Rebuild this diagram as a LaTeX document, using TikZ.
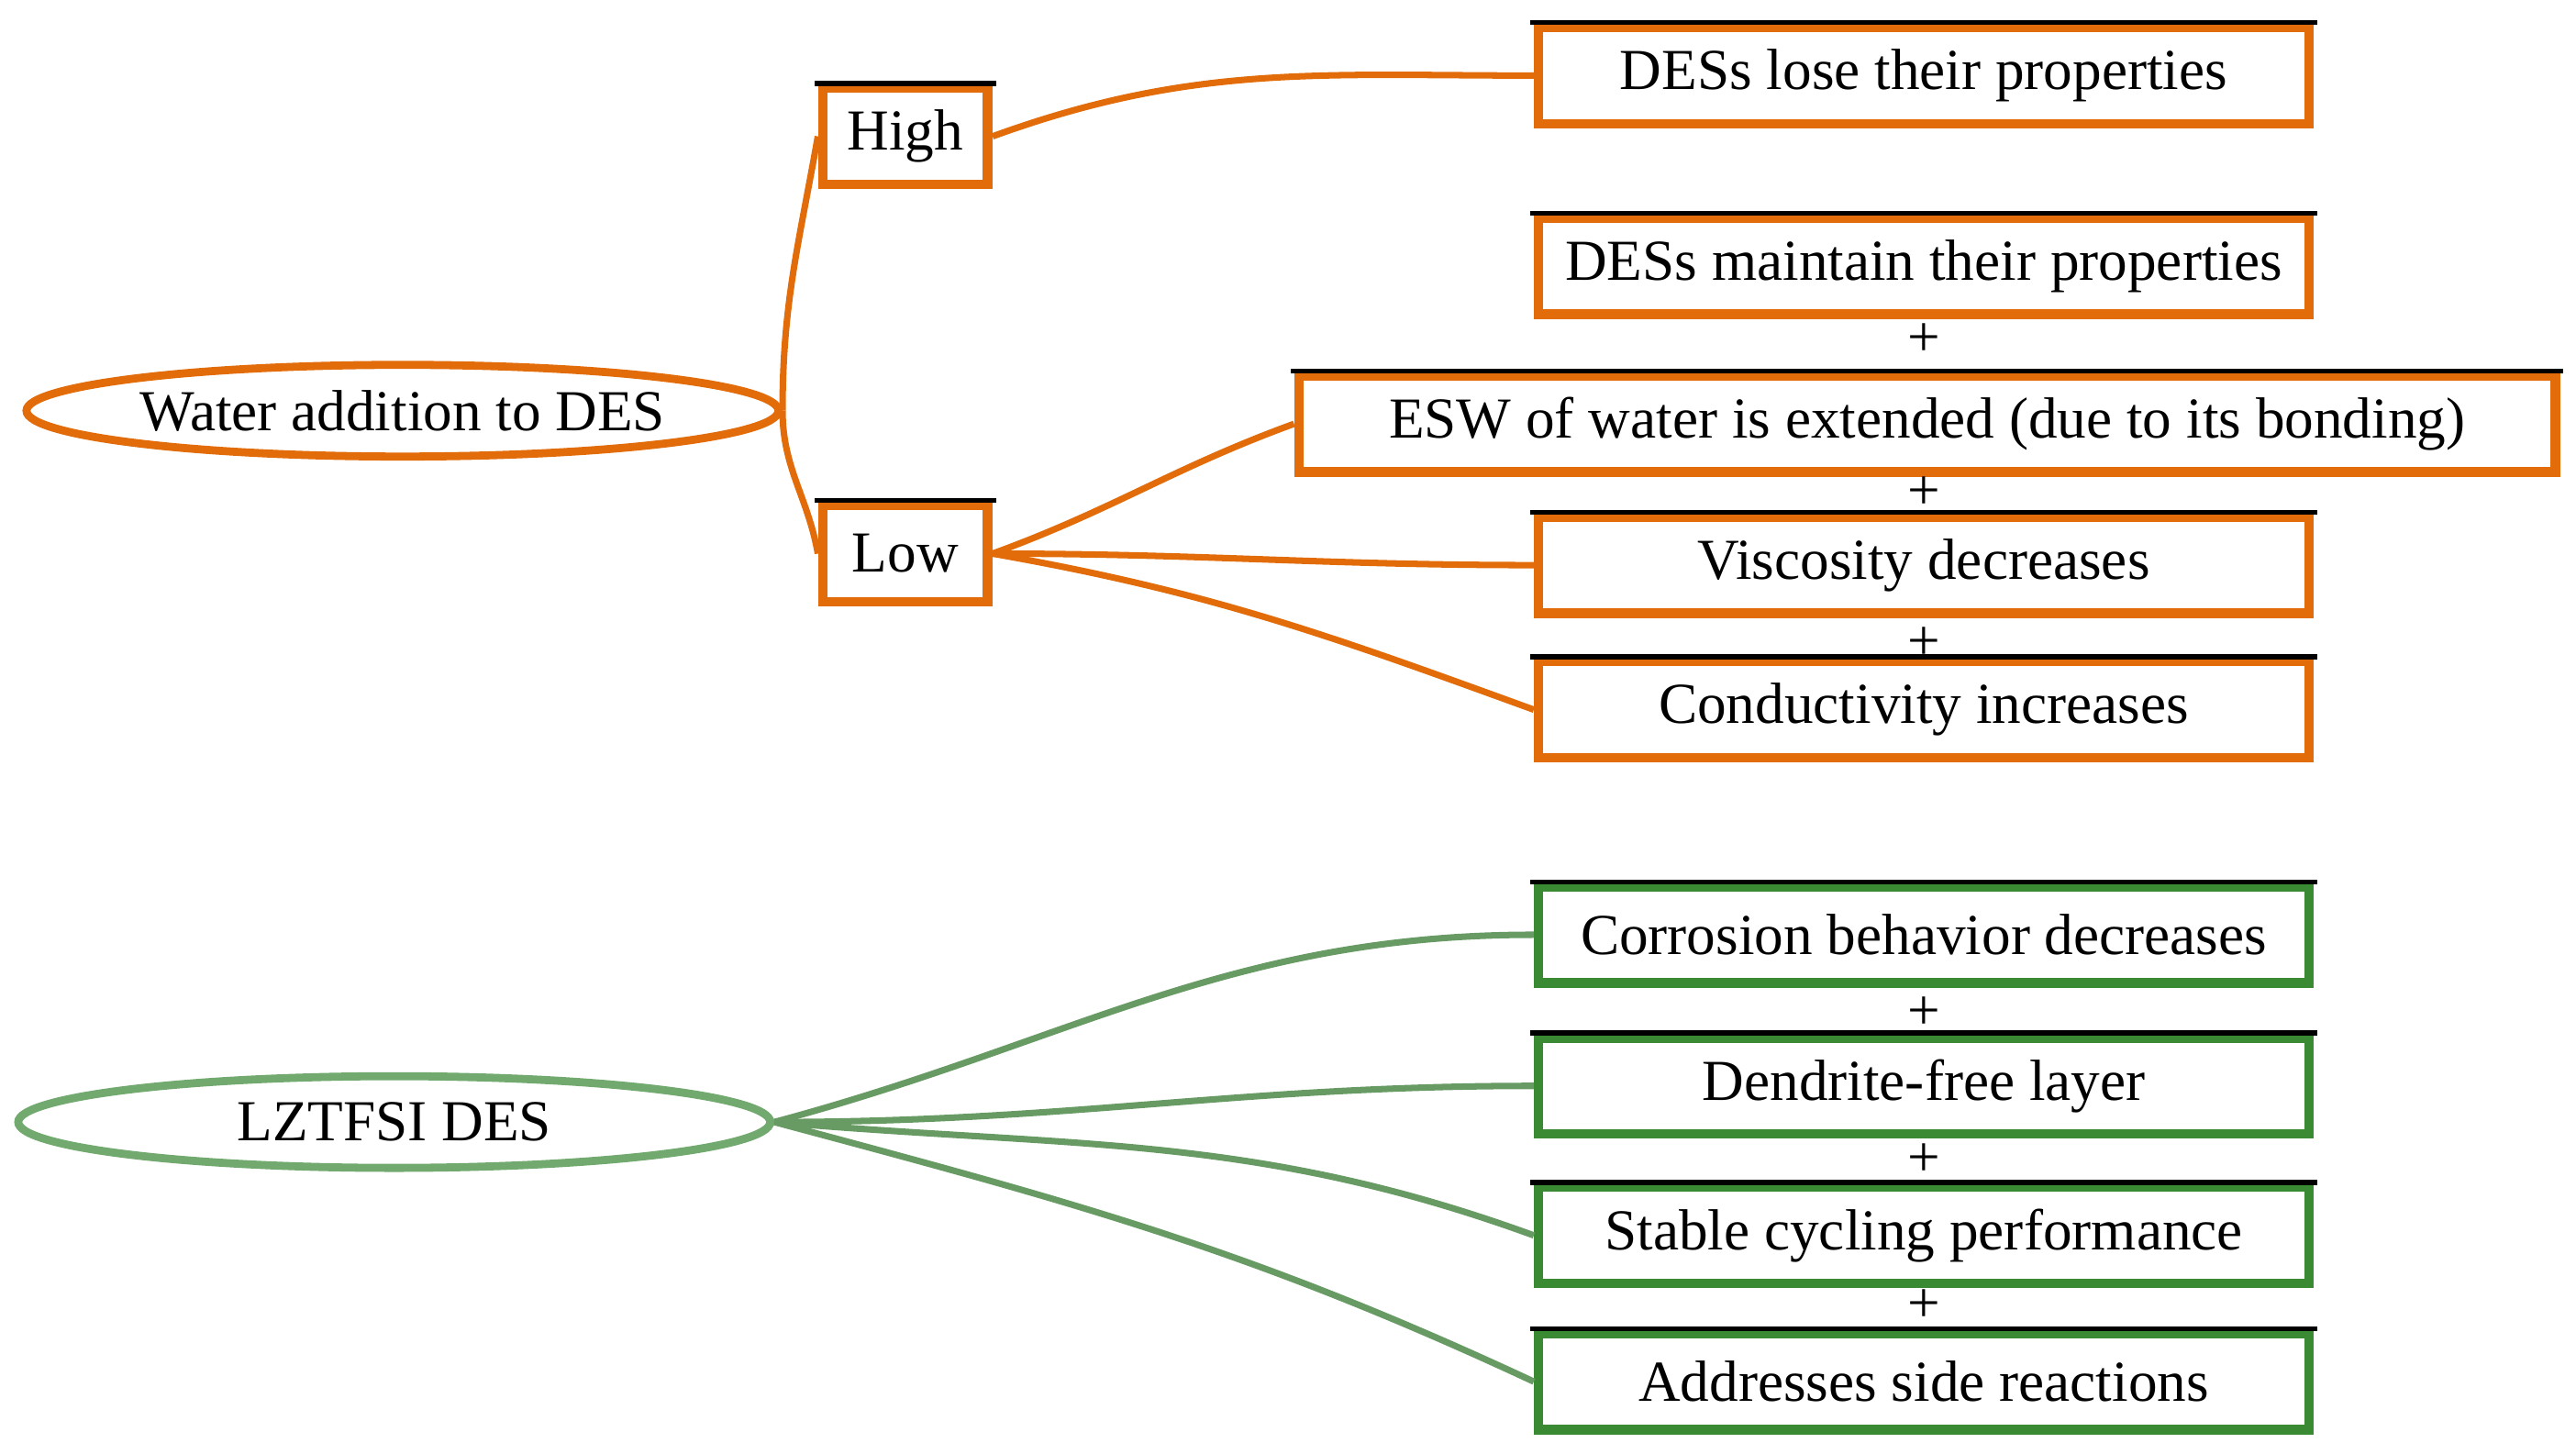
\documentclass[tikz,border=0pt]{standalone}
\usepackage{fontspec}
\setmainfont{Liberation Serif}
\usetikzlibrary{shapes.geometric}
\definecolor{orng}{HTML}{E36C0A}
\definecolor{brwn}{HTML}{3B1A08}
\definecolor{grn}{HTML}{3A8A34}
\definecolor{lgrn}{HTML}{8FD18A}
\definecolor{dgrn}{HTML}{2E4A2C}

\begin{document}
\begin{tikzpicture}[x=0.01791cm,y=-0.01791cm,
    font=\fontsize{18}{20}\selectfont,
    box/.style={draw=#1,line width=3pt,inner sep=0pt,minimum height=1.05cm,fill=white,
        append after command={(\tikzlastnode.north west) edge[draw=black,line width=1.5pt,shorten >=-1pt,shorten <=-1pt] (\tikzlastnode.north east)}},
    oval/.style={ellipse,draw=#1,line width=2.5pt,inner sep=0pt,minimum height=1.0cm,minimum width=8.2cm},
    link/.style={line width=2pt,draw=#1}]
    % Cadre
    \useasboundingbox (0,0) rectangle (1568,885);

    % Partie eau
    \node[oval=orng] (W) at (245,250) {Water addition to DES};
    \node[box=orng,minimum width=1.8cm] (H) at (551,83) {High};
    \node[box=orng,minimum width=1.8cm] (L) at (551,337) {Low};
    \node[box=orng,minimum width=8.4cm] (P1) at (1171,46) {DESs lose their properties};
    \node[box=orng,minimum width=8.4cm] (P2) at (1171,162) {DESs maintain their properties};
    \node[box=orng,minimum width=13.7cm] (P3) at (1173,258) {ESW of water is extended (due to its bonding)};
    \node[box=orng,minimum width=8.4cm] (P4) at (1171,344) {Viscosity decreases};
    \node[box=orng,minimum width=8.4cm] (P5) at (1171,432) {Conductivity increases};

    % Liens
    \draw[link=orng] (W.east) to[out=90,in=-100] (H.west);
    \draw[link=orng] (W.east) to[out=-90,in=100] (L.west);
    \draw[link=orng] (H.east) to[out=20,in=180] (P1.west);
    \draw[link=orng] (L.east) to[out=20,in=200] (P3.west);
    \draw[link=orng] (L.east) to[out=0,in=180] (P4.west);
    \draw[link=orng] (L.east) to[out=-10,in=160] (P5.west);

    % Signes +
    \foreach \y in {207,300,392} \node at (1171,\y) {+};

    % Partie LZTFSI
    \node[oval=lgrn!70!dgrn] (Z) at (240,683) {LZTFSI DES};
    \node[box=grn,minimum width=8.4cm] (Q1) at (1171,569) {Corrosion behavior decreases};
    \node[box=grn,minimum width=8.4cm] (Q2) at (1171,661) {Dendrite-free layer};
    \node[box=grn,minimum width=8.4cm] (Q3) at (1171,752) {Stable cycling performance};
    \node[box=grn,minimum width=8.4cm] (Q4) at (1171,841) {Addresses side reactions};

    \foreach \q/\o/\a in {Q1/15/180,Q2/0/180,Q3/-5/160,Q4/-15/155}
        \draw[link=lgrn!60!dgrn] (Z.east) to[out=\o,in=\a] (\q.west);

    \foreach \y in {617,706,795} \node at (1171,\y) {+};
\end{tikzpicture}
\end{document}
